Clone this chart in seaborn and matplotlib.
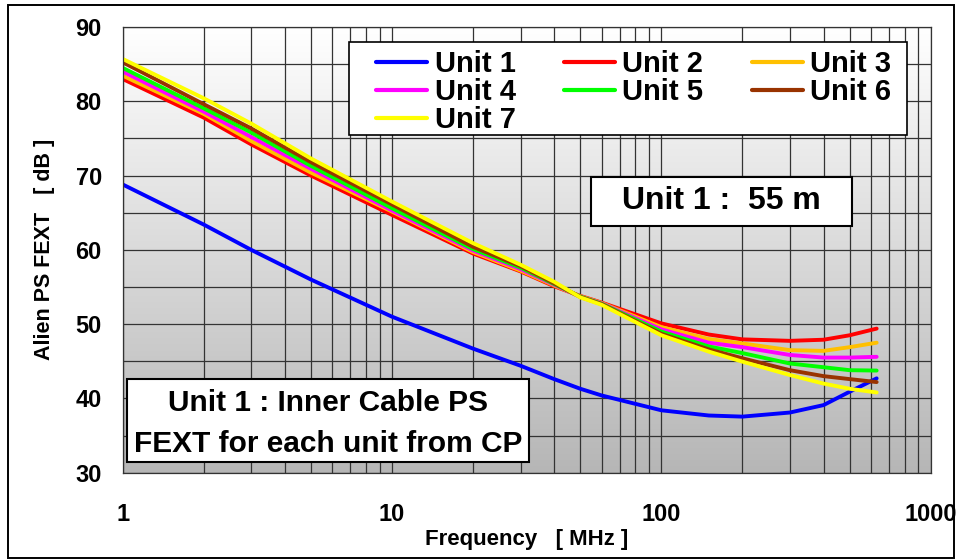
import numpy as np
import pandas as pd
import matplotlib
matplotlib.use("Agg")
import matplotlib.pyplot as plt
from matplotlib.colors import LinearSegmentedColormap
from matplotlib.patches import Rectangle
from matplotlib.ticker import FixedLocator, NullFormatter
import seaborn as sns

# Frequency points [MHz]
freq = [1, 2, 3, 5, 10, 20, 30, 40, 50, 60, 100, 150, 200, 300, 400, 500, 630]

# Alien PS FEXT [dB] per unit
unit1 = [68.8, 63.4, 60.0, 56.0, 51.0, 46.7, 44.4, 42.6, 41.3, 40.4, 38.4, 37.7, 37.55, 38.1, 39.1, 40.9, 42.7]
unit2 = [83.0, 77.8, 74.2, 70.0, 64.7, 59.5, 57.1, 55.1, 53.8, 52.9, 50.1, 48.6, 47.95, 47.75, 47.9, 48.5, 49.4]
unit3 = [83.45, 78.3, 74.65, 70.4, 65.15, 59.7, 57.2, 55.2, 53.75, 52.85, 49.6, 48.0, 47.4, 46.5, 46.4, 46.9, 47.5]
unit4 = [84.0, 78.6, 75.2, 70.9, 65.3, 59.9, 57.4, 55.3, 53.7, 52.8, 49.3, 47.5, 46.9, 45.85, 45.5, 45.5, 45.6]
unit5 = [84.5, 79.05, 75.8, 71.3, 65.6, 60.1, 57.6, 55.4, 53.7, 52.75, 49.0, 47.0, 46.1, 44.7, 44.2, 43.8, 43.75]
unit6 = [85.25, 79.6, 76.35, 71.8, 66.1, 60.4, 57.8, 55.5, 53.65, 52.7, 48.7, 46.6, 45.4, 43.8, 43.0, 42.6, 42.2]
unit7 = [85.7, 80.4, 77.0, 72.3, 66.5, 60.9, 58.0, 55.7, 53.6, 52.6, 48.5, 46.3, 44.95, 43.15, 42.0, 41.3, 40.8]

units = ["Unit 1", "Unit 2", "Unit 3", "Unit 4", "Unit 5", "Unit 6", "Unit 7"]
series = [unit1, unit2, unit3, unit4, unit5, unit6, unit7]
colors = ["#0000FF", "#FF0000", "#FFC000", "#FF00FF", "#00FF00", "#993300", "#FFFF00"]

x_ticks = [1, 10, 100, 1000]
x_tick_labels = ["1", "10", "100", "1000"]
y_ticks = [30, 40, 50, 60, 70, 80, 90]

df = pd.DataFrame({
    "freq": np.tile(freq, len(units)),
    "db": np.concatenate(series),
    "unit": np.repeat(units, len(freq)),
})

sns.set_style("white")
plt.rcParams["font.family"] = ["Liberation Sans", "DejaVu Sans"]
plt.rcParams["font.weight"] = "bold"
plt.rcParams["text.color"] = "black"
plt.rcParams["axes.labelcolor"] = "black"
plt.rcParams["xtick.color"] = "black"
plt.rcParams["ytick.color"] = "black"

W, H = 961, 560
fig = plt.figure(figsize=(W / 100, H / 100), dpi=100)
fig.patch.set_facecolor("white")


def fx(px):
    return px / W


def fy(py):
    return 1 - py / H


ax_l, ax_r, ax_t, ax_b = 122.7, 930.7, 27.0, 472.7
ax = fig.add_axes([fx(ax_l), fy(ax_b), fx(ax_r - ax_l), (ax_b - ax_t) / H])

ax.set_xscale("log")
ax.set_xlim(1, 1000)
ax.set_ylim(30, 90)
ax.set_autoscale_on(False)

# vertical grey gradient behind the plot
bg = LinearSegmentedColormap.from_list("bg", ["#ffffff", "#b6b6b6"])
ax.imshow(np.linspace(0, 1, 256).reshape(-1, 1), cmap=bg, aspect="auto",
          extent=[0, 1, 0, 1], transform=ax.transAxes, origin="upper", zorder=0)

sns.lineplot(data=df, x="freq", y="db", hue="unit", hue_order=units,
             palette=dict(zip(units, colors)), linewidth=2.8,
             estimator=None, legend=False, ax=ax)
for ln in ax.get_lines():
    ln.set_solid_joinstyle("round")
    ln.set_solid_capstyle("round")

ax.set_xlim(1, 1000)
ax.set_ylim(30, 90)

# ticks and grid
ax.xaxis.set_major_locator(FixedLocator(x_ticks))
ax.set_xticklabels(x_tick_labels)
ax.xaxis.set_minor_locator(FixedLocator([m * d for d in (1, 10, 100) for m in range(2, 10)]))
ax.xaxis.set_minor_formatter(NullFormatter())
ax.yaxis.set_major_locator(FixedLocator(y_ticks))
ax.yaxis.set_minor_locator(FixedLocator([35, 45, 55, 65, 75, 85]))
ax.set_axisbelow(True)
ax.grid(which="both", color="#333333", linewidth=0.9)
ax.tick_params(axis="y", which="major", direction="out", length=5.5, width=0.9,
               color="#333333", pad=9.5, labelsize=17, labelcolor="black")
ax.tick_params(axis="x", which="major", direction="out", length=6.5, width=0.9,
               color="#333333", pad=15, labelsize=17, labelcolor="black")
ax.tick_params(which="minor", length=0)
for lab in ax.get_xticklabels() + ax.get_yticklabels():
    lab.set_fontweight("bold")
for sp in ax.spines.values():
    sp.set_color("#333333")
    sp.set_linewidth(0.9)

ax.set_xlabel("Frequency   [ MHz ]", fontsize=16, fontweight="bold")
ax.xaxis.set_label_coords(0.5, (ax_b - 529) / (ax_b - ax_t))
ax.set_ylabel("Alien PS FEXT   [ dB ]", fontsize=15.5, fontweight="bold")
ax.yaxis.set_label_coords((55 - ax_l) / (ax_r - ax_l), 0.5)

# legend box and entries (row-wise order in three columns)
ax.add_patch(Rectangle((fx(349), fy(135)), fx(906.7 - 349), (135 - 41.7) / H,
                       transform=fig.transFigure, facecolor="white",
                       edgecolor="black", linewidth=1.2, zorder=4, clip_on=False))
lines = ax.get_lines()
order = [0, 3, 6, 1, 4, 2, 5]
leg = ax.legend([lines[i] for i in order], [units[i] for i in order], ncol=3,
                loc="upper left", bbox_to_anchor=(fx(376), fy(50.5)),
                bbox_transform=fig.transFigure, frameon=False, borderpad=0,
                borderaxespad=0, handlelength=1.75, handletextpad=0.26,
                columnspacing=1.65, labelspacing=0.0,
                prop={"size": 21, "weight": "bold"})
leg.set_zorder(5)
for h in leg.legend_handles:
    h.set_linewidth(3.0)

# annotation boxes
def text_box(x0, y0, x1, y1, text, size, linespacing=1.2, dy=0.0):
    ax.add_patch(Rectangle((fx(x0), fy(y1)), fx(x1 - x0), (y1 - y0) / H,
                           transform=fig.transFigure, facecolor="white",
                           edgecolor="black", linewidth=1.5, zorder=6, clip_on=False))
    ax.text(fx((x0 + x1) / 2), fy((y0 + y1) / 2 + dy), text, transform=fig.transFigure,
            ha="center", va="center", fontsize=size, fontweight="bold",
            linespacing=linespacing, zorder=7, multialignment="center")


text_box(590.7, 177.3, 852.3, 225.7, "Unit 1 :  55 m", 23)
text_box(127.3, 379.3, 529.3, 461.7, "Unit 1 : Inner Cable PS\nFEXT for each unit from CP",
         21.5, linespacing=1.6, dy=3)

# outer chart frame
fig.add_artist(Rectangle((fx(8), fy(558)), fx(954 - 8), (558 - 5) / H,
                         transform=fig.transFigure, facecolor="none",
                         edgecolor="black", linewidth=1.4))

fig.savefig("out.png", dpi=100)
